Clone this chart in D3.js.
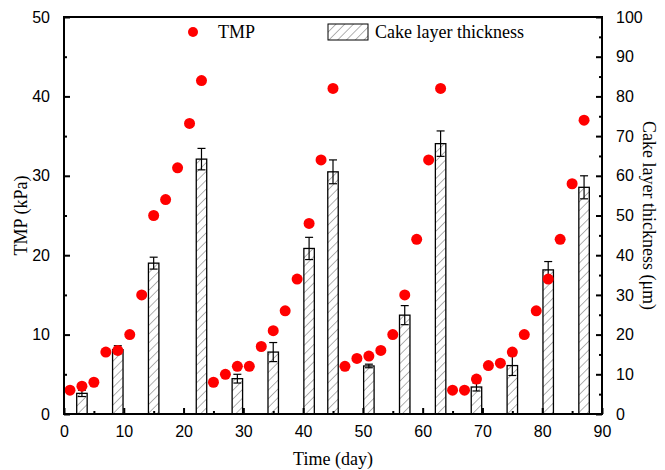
<!DOCTYPE html>
<html><head><meta charset="utf-8">
<script src="https://cdn.jsdelivr.net/npm/d3@7"></script>
<style>body{margin:0;background:#fff}svg{display:block}</style>
</head><body>
<script>
const tmpDays = [1,3,5,7,9,11,13,15,17,19,21,23,25,27,29,31,33,35,37,39,41,43,45,47,49,51,53,55,57,59,61,63,65,67,69,71,73,75,77,79,81,83,85,87];
const tmpValues = [3,3.5,4,7.8,8,10,15,25,27,31,36.6,42,4,5,6,6,8.5,10.5,13,17,24,32,41,6,7,7.3,8,10,15,22,32,41,3,3,4.4,6.1,6.4,7.8,10,13,17,22,29,37];
const cakeDays = [3,9,15,23,29,35,41,45,51,57,63,69,75,81,87];
const cakeValues = [5.2,16.2,38,64.2,8.9,15.6,41.7,61,12.1,24.9,68.1,6.8,12.2,36.3,57.1];
const cakeErrors = [0.8,1,1.5,2.7,1.1,2.4,2.8,3,0.45,2.4,3.2,1,2.5,2.1,2.9];
const xTicks = [0,10,20,30,40,50,60,70,80,90];
const yLeftTicks = [0,10,20,30,40,50];
const yRightTicks = [0,10,20,30,40,50,60,70,80,90,100];

const W = 665, H = 470;
const m = {l:64, r:63, t:17, b:56};
const svg = d3.select("body").append("svg").attr("width",W).attr("height",H);
const x = d3.scaleLinear().domain([0,90]).range([m.l, W-m.r]);
const yL = d3.scaleLinear().domain([0,50]).range([H-m.b, m.t]);
const yR = d3.scaleLinear().domain([0,100]).range([H-m.b, m.t]);

const defs = svg.append("defs");
const pat = defs.append("pattern").attr("id","hatch").attr("patternUnits","userSpaceOnUse")
  .attr("width",6.2).attr("height",6.2).attr("patternTransform","rotate(45)");
pat.append("line").attr("x1",0).attr("y1",0).attr("x2",0).attr("y2",6.2)
  .attr("stroke","#555").attr("stroke-width",0.9);

const barW = x(1.75) - x(0);
// bars
svg.append("g").selectAll("rect").data(cakeDays).join("rect")
  .attr("x",(d)=>x(d)-barW/2).attr("width",barW)
  .attr("y",(d,i)=>yR(cakeValues[i])).attr("height",(d,i)=>yR(0)-yR(cakeValues[i]))
  .attr("fill","url(#hatch)").attr("stroke","#000").attr("stroke-width",1.3);
// error bars
const eg = svg.append("g").attr("stroke","#000").attr("stroke-width",1.2);
cakeDays.forEach((d,i)=>{
  const cx = x(d), top = yR(cakeValues[i]+cakeErrors[i]), bot = yR(cakeValues[i]-cakeErrors[i]);
  eg.append("line").attr("x1",cx).attr("x2",cx).attr("y1",top).attr("y2",bot);
  eg.append("line").attr("x1",cx-4).attr("x2",cx+4).attr("y1",top).attr("y2",top);
  eg.append("line").attr("x1",cx-4).attr("x2",cx+4).attr("y1",bot).attr("y2",bot);
});
// points
svg.append("g").selectAll("circle").data(tmpDays).join("circle")
  .attr("cx",d=>x(d)).attr("cy",(d,i)=>yL(tmpValues[i])).attr("r",5.5).attr("fill","#f00");

// axes
const tickFont = "Liberation Sans, Arial, sans-serif";
const titleFont = "Liberation Serif, Times New Roman, serif";
function styleAxis(g){
  g.select(".domain").remove();
  g.selectAll("text").attr("font-family",tickFont).attr("font-size",16).attr("fill","#000");
  g.selectAll("line").attr("stroke","#000").attr("stroke-width",2);
}
const xAx = svg.append("g").attr("transform",`translate(0,${H-m.b})`)
  .call(d3.axisBottom(x).tickValues(xTicks).tickSizeInner(-6).tickSizeOuter(0).tickPadding(12));
styleAxis(xAx);
svg.append("g").attr("transform",`translate(0,${H-m.b})`)
  .call(d3.axisBottom(x).tickValues(d3.range(5,90,10)).tickSizeInner(-3).tickSizeOuter(0).tickFormat(""))
  .call(g=>{g.select(".domain").remove(); g.selectAll("line").attr("stroke","#000").attr("stroke-width",2);});
const yLAx = svg.append("g").attr("transform",`translate(${m.l},0)`)
  .call(d3.axisLeft(yL).tickValues(yLeftTicks).tickSizeInner(-6).tickSizeOuter(0).tickPadding(14));
styleAxis(yLAx);
svg.append("g").attr("transform",`translate(${m.l},0)`)
  .call(d3.axisLeft(yL).tickValues(d3.range(5,50,10)).tickSizeInner(-3).tickSizeOuter(0).tickFormat(""))
  .call(g=>{g.select(".domain").remove(); g.selectAll("line").attr("stroke","#000").attr("stroke-width",2);});
const yRAx = svg.append("g").attr("transform",`translate(${W-m.r},0)`)
  .call(d3.axisRight(yR).tickValues(yRightTicks).tickSizeInner(-6).tickSizeOuter(0).tickPadding(14));
styleAxis(yRAx);
svg.append("g").attr("transform",`translate(${W-m.r},0)`)
  .call(d3.axisRight(yR).tickValues(d3.range(5,100,10)).tickSizeInner(-3).tickSizeOuter(0).tickFormat(""))
  .call(g=>{g.select(".domain").remove(); g.selectAll("line").attr("stroke","#000").attr("stroke-width",2);});

// frame
svg.append("rect").attr("x",m.l).attr("y",m.t).attr("width",W-m.l-m.r).attr("height",H-m.t-m.b)
  .attr("fill","none").attr("stroke","#000").attr("stroke-width",2);

// titles
svg.append("text").attr("x",(m.l+W-m.r)/2).attr("y",465).attr("text-anchor","middle")
  .attr("font-family",titleFont).attr("font-size",18).text("Time (day)");
svg.append("text").attr("transform",`translate(27,${(m.t+H-m.b)/2}) rotate(-90)`).attr("text-anchor","middle")
  .attr("font-family",titleFont).attr("font-size",18).text("TMP (kPa)");
svg.append("text").attr("transform",`translate(643,${(m.t+H-m.b)/2}) rotate(90)`).attr("text-anchor","middle")
  .attr("font-family",titleFont).attr("font-size",18).text("Cake layer thickness (μm)");

// legend
svg.append("circle").attr("cx",193).attr("cy",32).attr("r",5).attr("fill","#f00");
svg.append("text").attr("x",218).attr("y",38).attr("font-family",titleFont).attr("font-size",18).text("TMP");
svg.append("rect").attr("x",328).attr("y",24).attr("width",40).attr("height",16)
  .attr("fill","url(#hatch)").attr("stroke","#000").attr("stroke-width",1);
svg.append("text").attr("x",375).attr("y",38).attr("font-family",titleFont).attr("font-size",18).text("Cake layer thickness");
</script>
</body></html>
